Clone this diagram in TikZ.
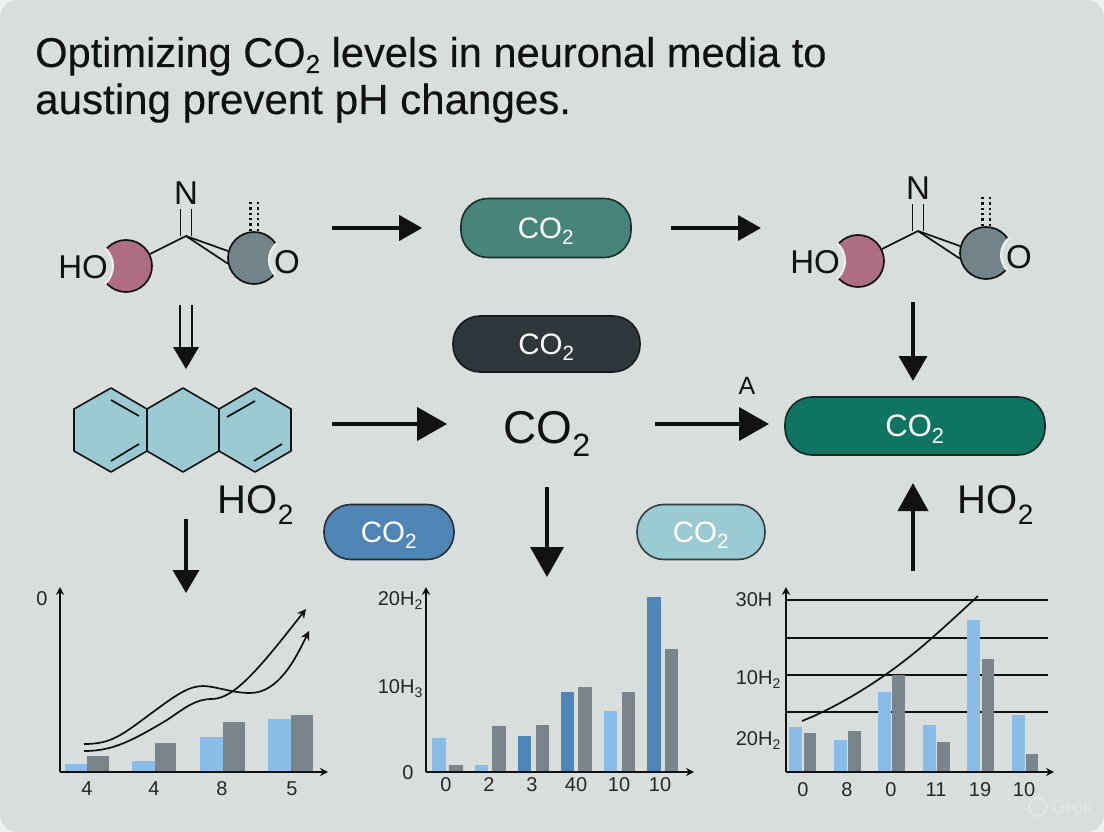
\documentclass[tikz,border=0pt]{standalone}
\usepackage{fontspec}
\setmainfont{Liberation Sans}
\newfontfamily\titlefont[FakeBold=0.25]{Liberation Sans}
\usetikzlibrary{arrows.meta}
\definecolor{cardbg}{HTML}{D8DEDB}
\definecolor{pagebg}{HTML}{EEF1F0}
\definecolor{haloring}{HTML}{EDF0EF}
\definecolor{inkblack}{HTML}{111111}
\definecolor{pinkatom}{HTML}{AD6E85}
\definecolor{grayatom}{HTML}{73838A}
\definecolor{ringblue}{HTML}{9CCAD3}
\definecolor{tealpill}{HTML}{47857A}
\definecolor{darkpill}{HTML}{2E373C}
\definecolor{greenpill}{HTML}{0F7562}
\definecolor{bluepill}{HTML}{4F85B5}
\definecolor{skypill}{HTML}{9ACAD2}
\definecolor{barlight}{HTML}{8ABCE8}
\definecolor{bardeep}{HTML}{4F86B8}
\definecolor{bargray}{HTML}{7A858B}
\definecolor{faintmark}{HTML}{E3E7E5}
\newcommand\sizedfont[1]{\fontsize{#1}{#1}\selectfont}
\newcommand\cotwo{CO\textsubscript{2}}
\tikzset{
  pillbox/.style={draw=inkblack!75!#1,line width=1.6pt,fill=#1,rounded corners=27pt,text=white,
    font=\sizedfont{29.5},inner sep=0pt,text depth=0pt},
  bond/.style={line width=1.7pt,inkblack},
  arrowsmall/.style={line width=3.8pt,inkblack,-{Triangle[length=23pt,width=25pt]}},
  arrowdown/.style={line width=3.8pt,inkblack,-{Triangle[length=25pt,width=28pt]}},
  arrowbig/.style={line width=3.8pt,inkblack,-{Triangle[length=30pt,width=33pt]}},
  axisline/.style={line width=1.8pt,inkblack,-{Stealth[length=8pt,width=8pt]}},
  curveline/.style={line width=1.7pt,inkblack},
  ticklabel/.style={font=\sizedfont{20},text=black!85,inner sep=0pt,text depth=0pt},
  atomlabel/.style={font=\sizedfont{33},text=inkblack,inner sep=0pt,text depth=0pt},
  titleline/.style={anchor=base west,inner sep=0pt,text=inkblack,text depth=0pt,text height=30pt},
  halo/.style={circle,fill=cardbg,draw=haloring,line width=2pt,inner sep=0pt},
  atom/.style={circle,draw=inkblack,line width=1.7pt,fill=#1,minimum size=52pt,inner sep=0pt},
  mol/.pic={
    \node[atom=pinkatom] (pink) at (126,266) {};
    \node[atom=grayatom] (gray) at (254,258) {};
    \begin{scope}
      \clip (126,266) circle (27.5);
      \node[halo,minimum size=48pt] (haloL) at (89,266) {};
    \end{scope}
    \begin{scope}
      \clip (254,258) circle (27.5);
      \node[halo,minimum size=44pt] (haloR) at (291,260) {};
    \end{scope}
    \node[atomlabel] (ho) at (83,267) {HO};
    \node[atomlabel] (ox) at (287,262) {O};
    \node[atomlabel] (nit) at (186,193) {N};
    \coordinate (cen) at (186,236);
    \draw[bond] (cen) -- (pink);
    \draw[bond] (cen) -- (gray.165);
    \draw[bond] (cen) -- (gray.192);
    \draw[bond] ([xshift=-5.5pt]cen) -- ([xshift=-5.5pt,yshift=-4pt]nit.south);
    \draw[bond] ([xshift=5.5pt]cen) -- ([xshift=5.5pt,yshift=-4pt]nit.south);
    \draw[line width=2.6pt,inkblack,dash pattern=on 2.4pt off 3pt] ([xshift=-3.8pt]gray.north) -- ++(0,-29);
    \draw[line width=2.6pt,inkblack,dash pattern=on 2.4pt off 3pt] ([xshift=3.8pt]gray.north) -- ++(0,-29);
  }
}
\begin{document}
\begin{tikzpicture}[x=1pt,y=-1pt]
\useasboundingbox (0,0) rectangle (1104,832);
\fill[pagebg] (0,0) rectangle (1104,832);
\fill[cardbg,rounded corners=18pt] (0,0) rectangle (1104,832);
% title
\node[titleline,font=\titlefont\sizedfont{41.6}] (titleA) at (35,67) {Optimizing CO\raisebox{-6pt}{\sizedfont{26}2} levels in neuronal media to};
\node[titleline,font=\titlefont\sizedfont{42.1}] (titleB) at (35,114) {austing prevent pH changes.};
% molecules
\pic (molA) at (0,0) {mol};
\pic (molB) at (732,-5) {mol};
% double arrow
\draw[line width=1.7pt,inkblack] (180,305) -- (180,349);
\draw[line width=1.7pt,inkblack] (192,305) -- (192,349);
\fill[inkblack] (173,347) -- (199,347) -- (186,369) -- cycle;
% hexagon rings
\filldraw[fill=ringblue,draw=inkblack,line width=1.6pt,line join=round] (111,388) -- (147,409) -- (183,388) -- (219,409) -- (255,388) -- (291,409) -- (291,451) -- (255,472) -- (219,451) -- (183,472) -- (147,451) -- (111,472) -- (74,451) -- (74,409) -- cycle;
\draw[bond] (147,409) -- (147,451);
\draw[bond] (219,409) -- (219,451);
\draw[bond] (111,400) -- (139,416);
\draw[bond] (111,461) -- (139,444);
\draw[bond] (227,417) -- (255,401);
\draw[bond] (254,461) -- (282,444);
\node[atomlabel,font=\sizedfont{40}] (hoa) at (256,500) {HO\textsubscript{2}};
\node[atomlabel,font=\sizedfont{40}] (hob) at (996,500) {HO\textsubscript{2}};
% pills
\node[pillbox=tealpill,minimum width=170pt,minimum height=59pt] (pillteal) at (546,228) {\cotwo};
\node[pillbox=darkpill,minimum width=187pt,minimum height=56pt] (pilldark) at (546.5,344) {\cotwo};
\node[pillbox=greenpill,minimum width=260pt,minimum height=58pt,font=\sizedfont{31}] (pillgreen) at (915,426) {\cotwo};
\node[pillbox=bluepill,minimum width=130pt,minimum height=55pt] (pillblue) at (389,532) {\cotwo};
\node[pillbox=skypill,minimum width=128pt,minimum height=55pt] (pillsky) at (701,532) {\cotwo};
\node[font=\sizedfont{46},text=inkblack,inner sep=0pt,text depth=0pt] (cobig) at (547,427) {\cotwo};
\node[font=\sizedfont{25},text=inkblack,inner sep=0pt] (laba) at (747,386) {A};
% arrows
\coordinate (startA) at (332,228);
\coordinate (endA) at (761,228);
\coordinate (startB) at (332,424);
\coordinate (startG) at (655,424);
\coordinate (endB) at (769,424);
\coordinate (startC) at (186,519);
\coordinate (endC) at (186,593);
\coordinate (startD) at (547,487);
\coordinate (endD) at (547,577);
\coordinate (startE) at (913,302);
\coordinate (endE) at (913,381);
\coordinate (startF) at (913,571);
\coordinate (endF) at (913,483);
\draw[arrowsmall,shorten >=38pt] (startA) -- (pillteal);
\draw[arrowsmall,shorten <=39pt] (pillteal) -- (endA);
\draw[arrowbig,shorten >=56pt] (startB) -- (cobig.west |- startB);
\draw[arrowbig] (startG) -- (endB);
\draw[arrowsmall,-{Triangle[length=23pt,width=26pt]}] (startC) -- (endC);
\draw[arrowbig] (startD) -- (endD);
\draw[arrowdown] (startE) -- (endE);
\draw[arrowdown,-{Triangle[length=28pt,width=30pt]}] (startF) -- (endF);
% chart left
\foreach \xa/\xb/\ytop/\col in {65/87/764/barlight,87/109/756/bargray,132/155/761/barlight,155/176/743/bargray,200/223/737/barlight,223/245/722/bargray,268/291/719/barlight,291/313/715/bargray}
  \fill[\col] (\xa,772) rectangle (\xb,\ytop);
\draw[axisline] (60,772) -- (60,587);
\draw[axisline] (60,772) -- (328,772);
\draw[curveline,-{Stealth[length=9pt,width=9pt]}] (84,744) .. controls (112,744) and (122,735) .. (153,712) .. controls (175,696) and (188,686) .. (203,686) .. controls (215,686) and (232,693) .. (250,693) .. controls (278,693) and (295,660) .. (309,631);
\draw[curveline,-{Stealth[length=9pt,width=9pt]}] (84,751) .. controls (112,751) and (130,742) .. (167,720) .. controls (185,708) and (195,699) .. (212,699) .. controls (235,699) and (262,665) .. (306,609);
\node[ticklabel] (lza) at (42,599) {0};
\foreach \xpos/\txt in {87/4,154/4,222/8,292/5}
  \node[ticklabel] at (\xpos,789) {\txt};
% chart middle
\foreach \xa/\xb/\ytop/\col in {432/446/738/barlight,449/463/765/bargray,475/488/765/barlight,492/506/726/bargray,518/531/736/bardeep,536/549/725/bargray,561/574/692/bardeep,578/592/687/bargray,604/617/711/barlight,622/635/692/bargray,647/661/597/bardeep,665/678/649/bargray}
  \fill[\col] (\xa,772) rectangle (\xb,\ytop);
\draw[axisline] (426,772) -- (426,587);
\draw[axisline] (426,772) -- (694,772);
\node[ticklabel,anchor=east] (lya) at (423,599) {20H\textsubscript{2}};
\node[ticklabel,anchor=east] (lyb) at (423,687) {10H\textsubscript{3}};
\node[ticklabel] (lyc) at (408,773) {0};
\foreach \xpos/\txt in {446/0,489/2,532/3,576/40,619/10,660/10}
  \node[ticklabel] at (\xpos,785) {\txt};
% chart right
\foreach \ypos in {600,638,675,712}
  \draw[line width=1.6pt,inkblack] (786,\ypos) -- (1048,\ypos);
\foreach \xa/\xb/\ytop/\col in {789/802/727/barlight,804/816/733/bargray,834/847/740/barlight,848/861/731/bargray,878/891/692/barlight,892/905/675/bargray,923/936/725/barlight,937/950/742/bargray,967/980/620/barlight,982/994/659/bargray,1012/1025/715/barlight,1026/1038/754/bargray}
  \fill[\col] (\xa,772) rectangle (\xb,\ytop);
\draw[axisline] (786,772) -- (786,587);
\draw[axisline] (786,772) -- (1054,772);
\draw[curveline] (802,721) .. controls (835,708) and (885,680) .. (933,637) .. controls (950,622) and (965,608) .. (978,596);
\node[ticklabel] (lyd) at (754,600) {30H};
\node[ticklabel,anchor=east] (lye) at (781,678) {10H\textsubscript{2}};
\node[ticklabel,anchor=east] (lyf) at (781,739) {20H\textsubscript{2}};
\foreach \xpos/\txt in {803/0,847/8,891/0,936/11,980/19,1024/10}
  \node[ticklabel] at (\xpos,790) {\txt};
% watermark
\draw[faintmark,line width=2pt] (1038,807) circle (9);
\node[font=\sizedfont{19},text=faintmark,inner sep=0pt] (grokmark) at (1072,807) {Grok};
\end{tikzpicture}
\end{document}
